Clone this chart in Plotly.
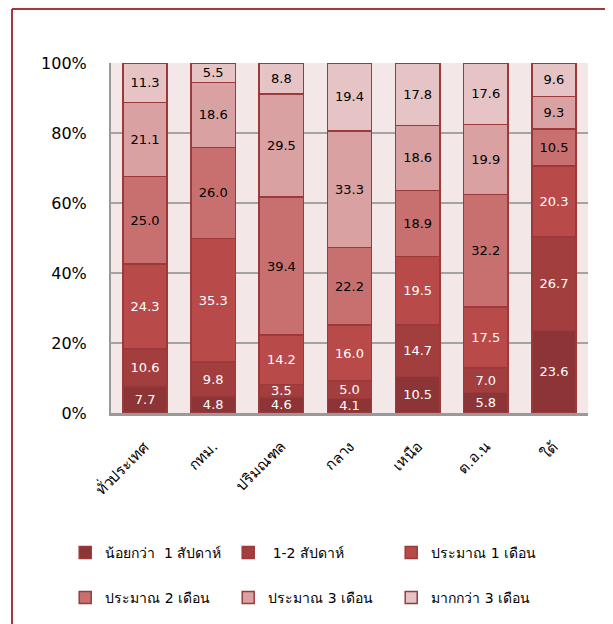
import plotly.graph_objects as go

categories = ["ทั่วประเทศ", "กทม.", "ปริมณฑล", "กลาง", "เหนือ", "ต.อ.น", "ใต้"]
series_names = ["น้อยกว่า  1 สัปดาห์", " 1-2 สัปดาห์", "ประมาณ 1 เดือน",
                "ประมาณ 2 เดือน", "ประมาณ 3 เดือน", "มากกว่า 3 เดือน"]
lt_1_week = [7.7, 4.8, 4.6, 4.1, 10.5, 5.8, 23.6]
weeks_1_2 = [10.6, 9.8, 3.5, 5.0, 14.7, 7.0, 26.7]
month_1 = [24.3, 35.3, 14.2, 16.0, 19.5, 17.5, 20.3]
month_2 = [25.0, 26.0, 39.4, 22.2, 18.9, 32.2, 10.5]
month_3 = [21.1, 18.6, 29.5, 33.3, 18.6, 19.9, 9.3]
gt_3_month = [11.3, 5.5, 8.8, 19.4, 17.8, 17.6, 9.6]
y_ticks = [0, 20, 40, 60, 80, 100]
y_tick_text = ["0%", "20%", "40%", "60%", "80%", "100%"]

series_values = [lt_1_week, weeks_1_2, month_1, month_2, month_3, gt_3_month]
colors = ["#8C3436", "#A33E3E", "#B84A49", "#C87070", "#D9A1A1", "#E6C3C5"]
text_colors = ["white", "white", "white", "black", "black", "black"]
legend_ids = ["legend", "legend", "legend", "legend2", "legend2", "legend2"]

FONT = "DejaVu Sans"

fig = go.Figure()
for name, vals, col, tcol, lg in zip(series_names, series_values, colors, text_colors, legend_ids):
    fig.add_trace(go.Bar(
        x=categories, y=vals, name=name, legend=lg,
        marker=dict(color=col, line=dict(color="#9C3A3B", width=1.5)),
        text=[f"{v:.1f}" for v in vals],
        textposition="inside", insidetextanchor="middle",
        constraintext="none",
        textfont=dict(color=tcol, size=13, family=FONT),
        hoverinfo="skip",
    ))

legend_common = dict(
    orientation="h", xanchor="left", yanchor="middle",
    traceorder="normal", entrywidth=118, entrywidthmode="pixels",
    font=dict(size=14, family=FONT), itemwidth=30, bgcolor="rgba(0,0,0,0)",
)

fig.update_layout(
    barmode="stack",
    bargap=0.35,
    width=605, height=616,
    margin=dict(l=103, r=25, t=55, b=210),
    paper_bgcolor="white",
    plot_bgcolor="#F3E7E8",
    font=dict(family=FONT, size=14, color="black"),
    showlegend=True,
    legend=dict(x=-0.096, y=-0.396, **legend_common),
    legend2=dict(x=-0.096, y=-0.524, **legend_common),
    yaxis=dict(
        range=[0, 100], tickvals=y_ticks, ticktext=y_tick_text,
        showgrid=True, gridcolor="#A3A3A3", gridwidth=1.5,
        showline=True, linecolor="#999999", linewidth=2,
        ticks="outside", ticklen=19, tickcolor="rgba(0,0,0,0)",
        tickfont=dict(size=16), zeroline=False,
    ),
    xaxis=dict(
        tickangle=-45, showline=True, linecolor="#999999", linewidth=2.5,
        ticks="outside", ticklen=16, tickcolor="rgba(0,0,0,0)",
        tickfont=dict(size=15),
    ),
    shapes=[
        dict(type="line", xref="paper", yref="paper",
             x0=-0.2075, x1=-0.2075, y0=-0.62, y1=1.154,
             line=dict(color="#A0393B", width=2)),
        dict(type="line", xref="paper", yref="paper",
             x0=-0.2075, x1=1.1, y0=1.154, y1=1.154,
             line=dict(color="#A0393B", width=2)),
    ],
)

fig.write_html("out.html")
